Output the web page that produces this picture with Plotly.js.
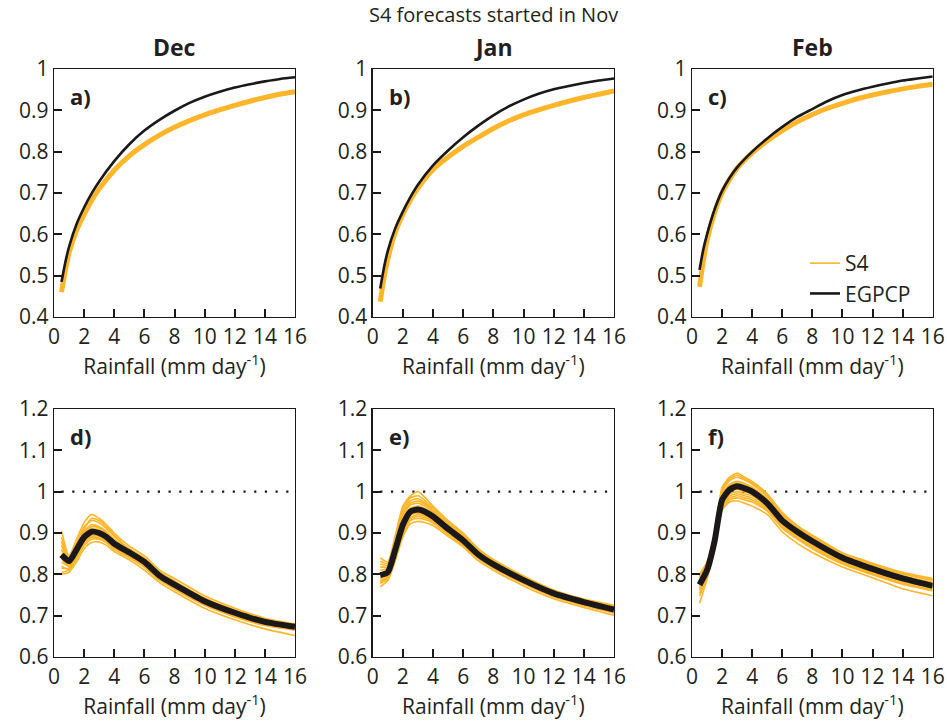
<!DOCTYPE html>
<html>
<head>
<meta charset="utf-8">
<script src="https://cdn.plot.ly/plotly-3.0.1.min.js"></script>
<style>html,body{margin:0;padding:0;background:#fff;}#chart{width:947px;height:727px;}</style>
</head>
<body>
<div id="chart"></div>
<script>
// ---------- DATA ----------
const months = ["Dec", "Jan", "Feb"];
const panelLetters = ["a)", "b)", "c)", "d)", "e)", "f)"];
const mainTitle = "S4 forecasts started in Nov";
const xTitle = "Rainfall (mm day<sup>-1</sup>)";
const xTickVals = [0, 2, 4, 6, 8, 10, 12, 14, 16];
const xTickText = ["0", "2", "4", "6", "8", "10", "12", "14", "16"];
const yTopTickVals = [0.4, 0.5, 0.6, 0.7, 0.8, 0.9, 1.0];
const yTopTickText = ["0.4", "0.5", "0.6", "0.7", "0.8", "0.9", "1"];
const yBotTickVals = [0.6, 0.7, 0.8, 0.9, 1.0, 1.1, 1.2];
const yBotTickText = ["0.6", "0.7", "0.8", "0.9", "1", "1.1", "1.2"];
const refLevel = 1;

// top row: cumulative distribution
const rainTop = [0.5, 0.75, 1, 1.5, 2, 2.5, 3, 4, 5, 6, 7, 8, 9, 10, 11, 12, 13, 14, 15, 16];
const egpcpDec = [0.485, 0.532, 0.57, 0.625, 0.665, 0.699, 0.728, 0.777, 0.818, 0.851, 0.877, 0.899, 0.918, 0.933, 0.945, 0.955, 0.963, 0.97, 0.976, 0.980];
const s4Dec    = [0.460, 0.513, 0.555, 0.61, 0.648, 0.682, 0.71, 0.755, 0.79, 0.817, 0.84, 0.859, 0.875, 0.889, 0.901, 0.912, 0.922, 0.931, 0.939, 0.945];
const egpcpJan = [0.469, 0.52, 0.56, 0.615, 0.655, 0.69, 0.72, 0.767, 0.803, 0.835, 0.863, 0.888, 0.909, 0.926, 0.94, 0.951, 0.959, 0.966, 0.972, 0.977];
const s4Jan    = [0.437, 0.495, 0.54, 0.605, 0.648, 0.683, 0.712, 0.757, 0.787, 0.813, 0.835, 0.856, 0.874, 0.889, 0.901, 0.912, 0.922, 0.931, 0.939, 0.947];
const egpcpFeb = [0.514, 0.563, 0.6, 0.66, 0.705, 0.737, 0.762, 0.8, 0.832, 0.86, 0.884, 0.903, 0.922, 0.937, 0.948, 0.957, 0.965, 0.972, 0.977, 0.982];
const s4Feb    = [0.473, 0.535, 0.585, 0.652, 0.7, 0.733, 0.76, 0.797, 0.826, 0.851, 0.872, 0.89, 0.905, 0.917, 0.928, 0.937, 0.945, 0.952, 0.958, 0.963];

// bottom row: ratio
const rainBot = [0.5, 1, 1.5, 2, 2.5, 3, 3.5, 4, 5, 6, 7, 8, 10, 12, 14, 16];
const ratioEgpcpDec = [0.847, 0.832, 0.86, 0.89, 0.903, 0.9, 0.89, 0.874, 0.853, 0.83, 0.797, 0.775, 0.735, 0.707, 0.685, 0.673];
const ratioEgpcpJan = [0.798, 0.805, 0.86, 0.92, 0.952, 0.957, 0.951, 0.94, 0.91, 0.882, 0.848, 0.824, 0.786, 0.754, 0.733, 0.715];
const ratioEgpcpFeb = [0.775, 0.81, 0.88, 0.98, 1.005, 1.013, 1.008, 1.0, 0.972, 0.93, 0.903, 0.88, 0.84, 0.813, 0.79, 0.772];

const ensDec1 = [0.905, 0.845, 0.885, 0.925, 0.945, 0.935, 0.92, 0.9, 0.868, 0.845, 0.81, 0.79, 0.748, 0.718, 0.694, 0.68];
const ensDec2 = [0.89, 0.84, 0.875, 0.915, 0.93, 0.925, 0.91, 0.892, 0.862, 0.84, 0.806, 0.784, 0.743, 0.714, 0.691, 0.678];
const ensDec3 = [0.87, 0.835, 0.868, 0.905, 0.92, 0.915, 0.903, 0.885, 0.858, 0.835, 0.802, 0.78, 0.74, 0.711, 0.689, 0.676];
const ensDec4 = [0.85, 0.825, 0.86, 0.895, 0.91, 0.907, 0.896, 0.879, 0.855, 0.832, 0.799, 0.777, 0.737, 0.709, 0.687, 0.674];
const ensDec5 = [0.83, 0.82, 0.852, 0.885, 0.9, 0.898, 0.888, 0.872, 0.85, 0.827, 0.795, 0.773, 0.733, 0.705, 0.684, 0.671];
const ensDec6 = [0.815, 0.815, 0.845, 0.878, 0.893, 0.892, 0.882, 0.866, 0.845, 0.822, 0.79, 0.769, 0.729, 0.701, 0.68, 0.668];
const ensDec7 = [0.805, 0.81, 0.838, 0.87, 0.885, 0.885, 0.876, 0.86, 0.84, 0.817, 0.786, 0.764, 0.725, 0.697, 0.676, 0.665];
const ensDec8 = [0.8, 0.805, 0.83, 0.862, 0.877, 0.878, 0.87, 0.855, 0.835, 0.81, 0.78, 0.758, 0.718, 0.69, 0.668, 0.652];
const ensDec9 = [0.88, 0.83, 0.87, 0.91, 0.935, 0.93, 0.915, 0.895, 0.86, 0.838, 0.804, 0.782, 0.741, 0.713, 0.69, 0.677];
const ensDec10 = [0.86, 0.822, 0.857, 0.9, 0.915, 0.912, 0.9, 0.882, 0.852, 0.83, 0.797, 0.775, 0.735, 0.707, 0.686, 0.673];
const ensDec11 = [0.84, 0.818, 0.85, 0.888, 0.905, 0.903, 0.892, 0.876, 0.848, 0.825, 0.793, 0.771, 0.731, 0.703, 0.682, 0.67];
const ensDec12 = [0.82, 0.812, 0.842, 0.875, 0.89, 0.888, 0.879, 0.864, 0.843, 0.82, 0.788, 0.766, 0.727, 0.699, 0.678, 0.666];

const ensJan1 = [0.84, 0.83, 0.895, 0.965, 0.99, 1.0, 0.985, 0.965, 0.93, 0.9, 0.862, 0.836, 0.796, 0.762, 0.74, 0.725];
const ensJan2 = [0.825, 0.822, 0.882, 0.952, 0.978, 0.983, 0.972, 0.955, 0.922, 0.893, 0.857, 0.832, 0.793, 0.76, 0.738, 0.722];
const ensJan3 = [0.81, 0.815, 0.873, 0.94, 0.968, 0.972, 0.964, 0.95, 0.917, 0.888, 0.853, 0.829, 0.79, 0.757, 0.736, 0.719];
const ensJan4 = [0.8, 0.808, 0.865, 0.93, 0.96, 0.965, 0.958, 0.944, 0.913, 0.884, 0.85, 0.826, 0.788, 0.755, 0.734, 0.717];
const ensJan5 = [0.795, 0.8, 0.856, 0.918, 0.948, 0.953, 0.947, 0.936, 0.907, 0.879, 0.846, 0.822, 0.784, 0.752, 0.731, 0.713];
const ensJan6 = [0.785, 0.795, 0.848, 0.905, 0.938, 0.944, 0.94, 0.93, 0.902, 0.875, 0.842, 0.818, 0.781, 0.749, 0.728, 0.71];
const ensJan7 = [0.778, 0.79, 0.84, 0.895, 0.93, 0.935, 0.932, 0.924, 0.897, 0.87, 0.838, 0.815, 0.777, 0.745, 0.724, 0.706];
const ensJan8 = [0.77, 0.785, 0.833, 0.89, 0.922, 0.928, 0.925, 0.918, 0.892, 0.866, 0.833, 0.81, 0.772, 0.741, 0.72, 0.701];
const ensJan9 = [0.832, 0.826, 0.888, 0.958, 0.985, 0.99, 0.978, 0.96, 0.926, 0.896, 0.86, 0.834, 0.795, 0.761, 0.739, 0.723];
const ensJan10 = [0.818, 0.818, 0.877, 0.945, 0.972, 0.977, 0.968, 0.952, 0.92, 0.89, 0.855, 0.83, 0.791, 0.758, 0.737, 0.72];
const ensJan11 = [0.79, 0.798, 0.852, 0.912, 0.943, 0.948, 0.943, 0.933, 0.904, 0.877, 0.844, 0.82, 0.783, 0.75, 0.729, 0.711];
const ensJan12 = [0.782, 0.792, 0.844, 0.9, 0.934, 0.94, 0.936, 0.927, 0.9, 0.872, 0.84, 0.816, 0.779, 0.747, 0.726, 0.708];

const ensFeb1 = [0.8, 0.83, 0.9, 1.01, 1.035, 1.045, 1.035, 1.025, 0.995, 0.95, 0.918, 0.895, 0.852, 0.827, 0.805, 0.79];
const ensFeb2 = [0.792, 0.823, 0.893, 1.0, 1.027, 1.035, 1.028, 1.018, 0.988, 0.943, 0.913, 0.89, 0.848, 0.822, 0.8, 0.785];
const ensFeb3 = [0.785, 0.817, 0.888, 0.993, 1.018, 1.025, 1.02, 1.011, 0.982, 0.938, 0.909, 0.886, 0.845, 0.818, 0.796, 0.781];
const ensFeb4 = [0.778, 0.812, 0.882, 0.985, 1.01, 1.017, 1.012, 1.004, 0.976, 0.934, 0.906, 0.883, 0.842, 0.815, 0.793, 0.777];
const ensFeb5 = [0.77, 0.806, 0.876, 0.975, 1.0, 1.006, 1.0, 0.995, 0.968, 0.928, 0.9, 0.877, 0.837, 0.81, 0.788, 0.772];
const ensFeb6 = [0.762, 0.8, 0.87, 0.965, 0.99, 0.995, 0.99, 0.985, 0.96, 0.92, 0.893, 0.87, 0.831, 0.805, 0.783, 0.767];
const ensFeb7 = [0.748, 0.795, 0.865, 0.958, 0.98, 0.985, 0.98, 0.975, 0.953, 0.912, 0.885, 0.862, 0.825, 0.799, 0.776, 0.76];
const ensFeb8 = [0.73, 0.788, 0.86, 0.955, 0.975, 0.978, 0.972, 0.965, 0.945, 0.903, 0.875, 0.853, 0.818, 0.792, 0.765, 0.748];
const ensFeb9 = [0.796, 0.826, 0.897, 1.005, 1.031, 1.04, 1.031, 1.021, 0.991, 0.946, 0.915, 0.892, 0.85, 0.824, 0.802, 0.787];
const ensFeb10 = [0.782, 0.815, 0.885, 0.989, 1.014, 1.021, 1.016, 1.008, 0.979, 0.936, 0.907, 0.884, 0.843, 0.816, 0.794, 0.779];
const ensFeb11 = [0.766, 0.803, 0.873, 0.97, 0.995, 1.0, 0.995, 0.99, 0.964, 0.924, 0.896, 0.874, 0.834, 0.807, 0.785, 0.769];
const ensFeb12 = [0.755, 0.797, 0.867, 0.96, 0.985, 0.99, 0.985, 0.98, 0.956, 0.916, 0.889, 0.866, 0.828, 0.802, 0.779, 0.763];

// ---------- STYLE / LAYOUT ----------
const ORANGE = "#fdb52a";
const BLACK = "#1a1818";
const TXT = "#231f20";
const FONT = "Open Sans";
const W = 947, H = 727;
const colL = [54, 372.7, 692], colR = [295, 614, 932.7];
const rowT = [69, 409], rowB = [317, 657];

const topSets = [[egpcpDec, s4Dec], [egpcpJan, s4Jan], [egpcpFeb, s4Feb]];
const botEgpcp = [ratioEgpcpDec, ratioEgpcpJan, ratioEgpcpFeb];
const botEns = [
  [ensDec1, ensDec2, ensDec3, ensDec4, ensDec5, ensDec6, ensDec7, ensDec8, ensDec9, ensDec10, ensDec11, ensDec12],
  [ensJan1, ensJan2, ensJan3, ensJan4, ensJan5, ensJan6, ensJan7, ensJan8, ensJan9, ensJan10, ensJan11, ensJan12],
  [ensFeb1, ensFeb2, ensFeb3, ensFeb4, ensFeb5, ensFeb6, ensFeb7, ensFeb8, ensFeb9, ensFeb10, ensFeb11, ensFeb12]
];

const traces = [];
const layout = {
  width: W, height: H,
  margin: {l: 0, r: 0, t: 0, b: 0},
  paper_bgcolor: "#fff", plot_bgcolor: "#fff",
  font: {family: FONT, size: 21, color: TXT},
  showlegend: true,
  legend: {x: 805 / W, y: 1 - 243 / H, xanchor: "left", yanchor: "top",
           bgcolor: "rgba(0,0,0,0)", font: {family: FONT, size: 21, color: TXT},
           tracegroupgap: 0, itemwidth: 30},
  annotations: [], shapes: []
};

function axisName(i) { return i === 0 ? "" : String(i + 1); }

for (let r = 0; r < 2; r++) {
  for (let c = 0; c < 3; c++) {
    const idx = r * 3 + c;
    const n = axisName(idx);
    const xa = "x" + n, ya = "y" + n;
    layout["xaxis" + n] = {
      domain: [colL[c] / W, colR[c] / W], anchor: ya,
      range: [0, 16], tickvals: xTickVals, ticktext: xTickText,
      ticks: "inside", ticklen: 8, tickwidth: 2, tickcolor: BLACK,
      showline: true, linecolor: BLACK, linewidth: 1.3, mirror: true,
      showgrid: false, zeroline: false, fixedrange: true,
      tickfont: {family: FONT, size: 21, color: TXT},
      title: {text: xTitle, font: {family: FONT, size: 21, color: TXT}, standoff: 6}
    };
    layout["yaxis" + n] = {
      domain: [1 - rowB[r] / H, 1 - rowT[r] / H], anchor: xa,
      range: r === 0 ? [0.4, 1.0] : [0.6, 1.2],
      tickvals: r === 0 ? yTopTickVals : yBotTickVals,
      ticktext: r === 0 ? yTopTickText : yBotTickText,
      ticks: "inside", ticklen: 8, tickwidth: 2, tickcolor: BLACK,
      showline: true, linecolor: BLACK, linewidth: 1.3, mirror: true,
      showgrid: false, zeroline: false, fixedrange: true,
      tickfont: {family: FONT, size: 21, color: TXT}
    };
    // panel letter
    layout.annotations.push({
      xref: "paper", yref: "paper", x: (colL[c] + 14) / W, y: 1 - (rowT[r] + 27) / H,
      xanchor: "left", yanchor: "middle", showarrow: false,
      text: "<b>" + panelLetters[idx] + "</b>", font: {family: FONT, size: 22, color: TXT}
    });

    if (r === 0) {
      const [eg, s4] = topSets[c];
      traces.push({x: rainTop, y: s4, xaxis: xa, yaxis: ya, mode: "lines", type: "scatter",
        line: {color: ORANGE, width: 5, shape: "spline", smoothing: 0.8}, showlegend: false, hoverinfo: "skip"});
      traces.push({x: rainTop, y: eg, xaxis: xa, yaxis: ya, mode: "lines", type: "scatter",
        name: "EGPCP", legendrank: 2, line: {color: BLACK, width: 2.6, shape: "spline", smoothing: 0.8},
        showlegend: c === 2, hoverinfo: "skip"});
    } else {
      traces.push({x: [rainBot[0], rainBot[rainBot.length - 1]], y: [refLevel, refLevel],
        xaxis: xa, yaxis: ya, mode: "lines", type: "scatter",
        line: {color: BLACK, width: 2.2, dash: "2.2px,8.5px"}, showlegend: false, hoverinfo: "skip"});
      botEns[c].forEach((m, k) => {
        traces.push({x: rainBot, y: m, xaxis: xa, yaxis: ya, mode: "lines", type: "scatter",
          name: "S4", legendrank: 1, line: {color: ORANGE, width: 1.6, shape: "spline", smoothing: 0.6},
          showlegend: (c === 2 && k === 0), hoverinfo: "skip"});
      });
      traces.push({x: rainBot, y: botEgpcp[c], xaxis: xa, yaxis: ya, mode: "lines", type: "scatter",
        line: {color: BLACK, width: 6, shape: "spline", smoothing: 0.6}, showlegend: false, hoverinfo: "skip"});
    }
  }
}

// column titles
for (let c = 0; c < 3; c++) {
  layout.annotations.push({
    xref: "paper", yref: "paper", x: (colL[c] + colR[c]) / 2 / W, y: 1 - 47 / H,
    xanchor: "center", yanchor: "middle", showarrow: false,
    text: "<b>" + months[c] + "</b>", font: {family: FONT, size: 23, color: TXT}
  });
}
// main title
layout.annotations.push({
  xref: "paper", yref: "paper", x: (colL[1] + colR[1]) / 2 / W, y: 1 - 15 / H,
  xanchor: "center", yanchor: "middle", showarrow: false,
  text: mainTitle, font: {family: FONT, size: 20, color: TXT}
});

Plotly.newPlot("chart", traces, layout, {staticPlot: true, displayModeBar: false});
</script>
</body>
</html>
